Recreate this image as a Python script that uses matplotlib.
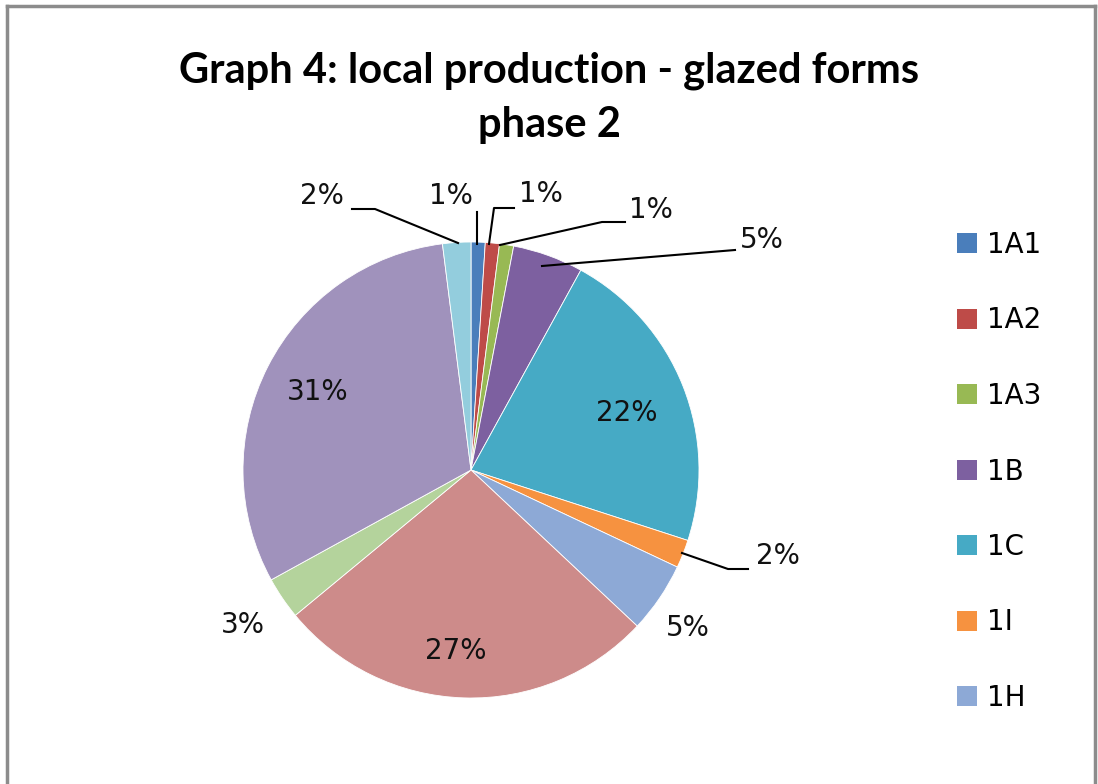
import matplotlib
matplotlib.use("Agg")
import matplotlib.pyplot as plt
import numpy as np
from matplotlib.patches import Patch
from matplotlib.lines import Line2D

# ---- data ----
categories = ["1A1", "1A2", "1A3", "1B", "1C", "1I", "1H", "", "", "", ""]
values = [1, 1, 1, 5, 22, 2, 5, 27, 3, 31, 2]
colors = ["#4A7EBB", "#BE4B48", "#98B954", "#7D60A0", "#46AAC5", "#F69240",
          "#8DA9D6", "#CD8B8A", "#B4D39C", "#A092BC", "#93CDDD"]
legend_count = 7
title = "Graph 4: local production - glazed forms\nphase 2"

TFONT = "Lato"
FONT = "DejaVu Sans"
W, H = 1098, 784
fig = plt.figure(figsize=(W / 100, H / 100), dpi=100)

# pie geometry (pixels)
cx, cy, R = 471, 470, 228
ax = fig.add_axes([(cx - R) / W, (H - cy - R) / H, 2 * R / W, 2 * R / H])

wedges, _ = ax.pie(values, colors=colors, startangle=90, counterclock=False,
                   radius=1, wedgeprops=dict(linewidth=0.6, edgecolor="white"))
ax.set_xlim(-1, 1)
ax.set_ylim(-1, 1)
ax.set_aspect("auto")
ax.axis("off")

total = float(sum(values))
labels = ["%d%%" % round(v / total * 100) for v in values]

def px(x, y):
    return ((x - cx) / R, (cy - y) / R)

# label layout: (text pos in px, leader path in px or None)
label_layout = {
    0: ((451, 196), [(477, 212), (477, 244)]),
    1: ((541, 194), [(514, 208), (494, 208), (489, 244)]),
    2: ((651, 210), [(625, 222), (602, 222), (500, 245)]),
    3: ((762, 240), [(735, 250), (542, 266)]),
    4: ((627, 413), None),
    5: ((778, 556), [(748, 569), (728, 569), (682, 553)]),
    6: ((688, 628), None),
    7: ((456, 651), None),
    8: ((243, 625), None),
    9: ((318, 392), None),
    10: ((322, 196), [(352, 209), (375, 209), (458, 243)]),
}

for i, lab in enumerate(labels):
    (tx, ty), path = label_layout[i]
    x, y = px(tx, ty)
    ax.text(x, y, lab, ha="center", va="center", fontsize=20, family=FONT,
            color="#111111", clip_on=False)
    if path is not None:
        pts = np.array([px(a, b) for a, b in path])
        ax.add_line(Line2D(pts[:, 0], pts[:, 1], color="black", lw=1.5,
                           clip_on=False))

fig.text(549 / W, 1 - 98 / H, title, ha="center", va="center",
         fontsize=30, fontweight="bold", family=TFONT, linespacing=1.5)

handles = [Patch(facecolor=colors[i], edgecolor="none") for i in range(legend_count)]
leg = fig.legend(handles, categories[:legend_count], loc="upper left",
                 bbox_to_anchor=(957 / W, 1 - 231 / H), frameon=False,
                 prop=dict(family=FONT, size=20), labelspacing=1.71,
                 handlelength=0.72, handleheight=0.72, handletextpad=0.36,
                 borderaxespad=0, borderpad=0)

# outer frame (left, top, right)
fc = "#8C8C8C"
fig.add_artist(Line2D([7 / W, 7 / W], [0, 1 - 6 / H], color=fc, lw=2.5,
                      transform=fig.transFigure))
fig.add_artist(Line2D([7 / W, 1095 / W], [1 - 6 / H, 1 - 6 / H], color=fc,
                      lw=2.5, transform=fig.transFigure))
fig.add_artist(Line2D([1095 / W, 1095 / W], [0, 1 - 6 / H], color=fc, lw=2.5,
                      transform=fig.transFigure))

fig.savefig("out.png", dpi=100)
